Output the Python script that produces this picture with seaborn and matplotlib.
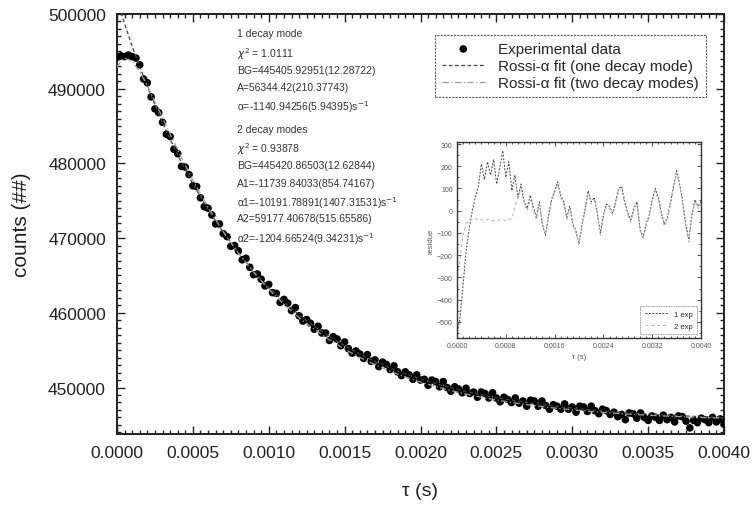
import numpy as np
import matplotlib
matplotlib.use("Agg")
import matplotlib.pyplot as plt
from matplotlib.ticker import MultipleLocator, FormatStrFormatter
import seaborn as sns
import pandas as pd

# experimental counts, one sample every 25 us
step = 0.000025
counts = [
    494200, 494400, 494300, 494500, 494300, 494100, 493200, 491300, 490800, 488900,
    487300, 486800, 485500, 483900, 483600, 481900, 481300, 479600, 479500, 478500,
    477000, 476900, 475400, 474200, 474000, 473100, 471900, 471900, 470600, 470200,
    468900, 469000, 468300, 467100, 467300, 466100, 465100, 465200, 464500, 463600,
    463800, 462700, 462600, 461400, 461800, 461300, 460300, 460700, 459600, 458900,
    459100, 458600, 457800, 458200, 457300, 457300, 456300, 456800, 456500, 455600,
    456100, 455200, 454600, 454900, 454500, 453900, 454400, 453500, 453700, 452800,
    453400, 453100, 452400, 452900, 452100, 451600, 452100, 451700, 451100, 451700,
    451000, 451100, 450300, 451000, 450800, 450100, 450800, 450000, 449500, 450100,
    449800, 449300, 449900, 449200, 449400, 448700, 449400, 449200, 448600, 449300,
    448600, 448100, 448700, 448400, 448000, 448600, 447900, 448200, 447500, 448300,
    448200, 447500, 448200, 447600, 447100, 447700, 447500, 447100, 447800, 447100,
    447400, 446700, 447500, 447400, 446800, 447500, 446900, 446500, 447100, 446900,
    446400, 446700, 446100, 446400, 445700, 446600, 446500, 445900, 446600, 446000,
    445600, 446200, 446000, 445600, 446300, 445700, 446000, 445400, 446200, 446100,
    445500, 444600, 445600, 445300, 445900, 445700, 445300, 446000, 445400, 445800,
    445100,
]

# fit curves
fit1_tau = [k * 0.0001 for k in range(41)]
fit1 = [
    501750, 495674, 490254, 485418, 481104, 477255, 473820, 470757, 468023, 465584,
    463409, 461468, 459736, 458190, 456812, 455582, 454485, 453506, 452633, 451853,
    451158, 450538, 449985, 449491, 449051, 448658, 448307, 447994, 447715, 447466,
    447244, 447046, 446869, 446711, 446571, 446445, 446333, 446233, 446144, 446064,
    445993,
]
fit2_tau = [0.0, 0.00003, 0.00005, 0.0001, 0.00015] + [k * 0.0001 for k in range(2, 41)]
fit2 = [
    492858, 493849, 494085, 493645, 492271,
    490398, 486096, 481769, 477749, 474118, 470875, 467991, 465431, 463161, 461147,
    459362, 457780, 456377, 455134, 454031, 453054, 452188, 451420, 450739, 450135,
    449600, 449126, 448705, 448332, 448002, 447709, 447449, 447219, 447015, 446834,
    446674, 446531, 446405, 446294, 446195, 446107, 446029, 445960, 445899,
]

# residues (inset), one every 50 us
res_step = 0.00005
res1 = [
    -560, -480, -330, -180, -80, 0, 60, 110, 210, 140,
    220, 160, 230, 120, 190, 270, 150, 220, 90, 160,
    60, 120, 40, 10, 70, 20, -30, 40, -60, -110,
    -20, 50, 90, 130, 70, 40, -30, 20, -60, -90,
    -150, -60, 10, 90, 40, 60, -10, -100, -20, 30,
    20, -10, 40, 100, 110, 40, -10, -40, 10, 40,
    -80, -120, -60, -20, 50, 100, 60, -10, -60, -30,
    40, 110, 180, 120, 40, -60, -130, -20, 50, 20,
    40,
]
res2 = [
    -320, -210, -110, -60, -40, -40, -35, -40, -40, -45,
    -40, -40, -45, -45, -40, -40, -45, -40, -35, 20,
    60, 100, 30, 0, 50, 10, -40, 30, -60, -110,
    -30, 40, 80, 120, 60, 30, -40, 10, -70, -100,
    -150, -70, 0, 80, 30, 50, -20, -110, -30, 20,
    10, -20, 30, 90, 100, 30, -20, -50, 0, 30,
    -90, -130, -70, -30, 40, 90, 50, -20, -70, -40,
    30, 100, 170, 110, 30, -70, -140, -30, 40, 10,
    30,
]

fit_text = [
    "1 decay mode",
    r"$\chi^2$ = 1.0111",
    "BG=445405.92951(12.28722)",
    "A=56344.42(210.37743)",
    r"α=-1140.94256(5.94395)s$^{-1}$",
    "2 decay modes",
    r"$\chi^2$ = 0.93878",
    "BG=445420.86503(12.62844)",
    "A1=-11739.84033(854.74167)",
    r"α1=-10191.78891(1407.31531)s$^{-1}$",
    "A2=59177.40678(515.65586)",
    r"α2=-1204.66524(9.34231)s$^{-1}$",
]

data = pd.DataFrame({"tau": np.arange(len(counts)) * step, "counts": counts})
f1 = pd.DataFrame({"tau": fit1_tau, "counts": fit1})
f2 = pd.DataFrame({"tau": fit2_tau, "counts": fit2})
res = pd.DataFrame({"tau": np.arange(len(res1)) * res_step, "r1": res1, "r2": res2})

sns.set_style("ticks")
plt.rcParams["font.family"] = ["Liberation Sans", "DejaVu Sans"]
plt.rcParams["mathtext.fontset"] = "dejavusans"

W, H = 752, 506
fig = plt.figure(figsize=(W / 100, H / 100), dpi=100)
ax = fig.add_axes([117 / W, 1 - 435 / H, (724 - 117) / W, (435 - 15) / H])

sns.scatterplot(data=data, x="tau", y="counts", ax=ax, color="black", s=30,
                edgecolor="none", label="Experimental data", zorder=3)
sns.lineplot(data=f1, x="tau", y="counts", ax=ax, color="#444444", lw=0.9,
             linestyle=(0, (3, 2)), label="Rossi-α fit (one decay mode)", zorder=4)
sns.lineplot(data=f2, x="tau", y="counts", ax=ax, color="#a0a0a0", lw=0.9,
             linestyle=(0, (5, 2, 1, 2)), label="Rossi-α fit (two decay modes)", zorder=4)

ax.set_xlim(0, 0.004)
ax.set_ylim(443780, 500000)
ax.xaxis.set_major_locator(MultipleLocator(0.0005))
ax.xaxis.set_minor_locator(MultipleLocator(0.00005))
ax.xaxis.set_major_formatter(FormatStrFormatter("%.4f"))
ax.yaxis.set_major_locator(MultipleLocator(10000))
ax.yaxis.set_minor_locator(MultipleLocator(1000))
ax.tick_params(which="both", direction="in", top=True, right=True, width=1.0,
               color="#222222", labelsize=12.5, labelcolor="#222222", pad=8)
ax.tick_params(which="major", length=6)
ax.tick_params(which="minor", length=3)
for s in ax.spines.values():
    s.set_linewidth(1.4)
    s.set_color("#222222")
ax.set_xlabel("τ (s)", fontsize=14, color="#222222", labelpad=16)
ax.set_ylabel("counts (##)", fontsize=15, color="#222222", labelpad=12)

leg = ax.legend(loc="upper right", bbox_to_anchor=(0.983, 0.968), fontsize=11,
                frameon=True, fancybox=False, edgecolor="#333333",
                handlelength=2.8, borderpad=0.45, labelspacing=0.2, handletextpad=0.9)
leg.get_frame().set_linewidth(0.8)
leg.get_frame().set_linestyle((0, (2, 1)))

for line, y in zip(fit_text, [34, 54, 71, 88, 107, 130, 149, 166, 184, 203, 219, 239]):
    fig.text(237 / W, 1 - y / H, line, fontsize=7.5, color="#333333", va="center")

# inset with residues
ins = fig.add_axes([457 / W, 1 - 339 / H, (701 - 457) / W, (339 - 143) / H])
sns.lineplot(data=res, x="tau", y="r1", ax=ins, color="#444444", lw=0.7,
             linestyle=(0, (2, 1.5)), label="1 exp")
sns.lineplot(data=res, x="tau", y="r2", ax=ins, color="#b0b0b0", lw=0.7,
             linestyle=(0, (3, 3)), label="2 exp")
ins.set_xlim(0, 0.004)
ins.set_ylim(-572, 309)
ins.xaxis.set_major_locator(MultipleLocator(0.0008))
ins.xaxis.set_minor_locator(MultipleLocator(0.0001))
ins.xaxis.set_major_formatter(FormatStrFormatter("%.4f"))
ins.yaxis.set_major_locator(MultipleLocator(100))
ins.yaxis.set_minor_locator(MultipleLocator(50))
ins.tick_params(which="both", direction="in", top=True, right=True, width=0.6,
                color="#333333", labelsize=5, labelcolor="#555555", pad=3)
ins.tick_params(which="major", length=3)
ins.tick_params(which="minor", length=1.5)
for s in ins.spines.values():
    s.set_linewidth(1.0)
    s.set_color("#333333")
ins.set_xlabel("τ (s)", fontsize=5.5, color="#555555", labelpad=3)
ins.set_ylabel("residue", fontsize=5.5, color="#555555", labelpad=2)
il = ins.legend(loc="lower right", fontsize=5.5, frameon=True, fancybox=False,
                edgecolor="#777777", handlelength=3, borderpad=0.6, labelspacing=0.6)
il.get_frame().set_linewidth(0.6)
il.get_frame().set_linestyle((0, (2, 1)))

fig.savefig("out.png", dpi=100, facecolor="white")
